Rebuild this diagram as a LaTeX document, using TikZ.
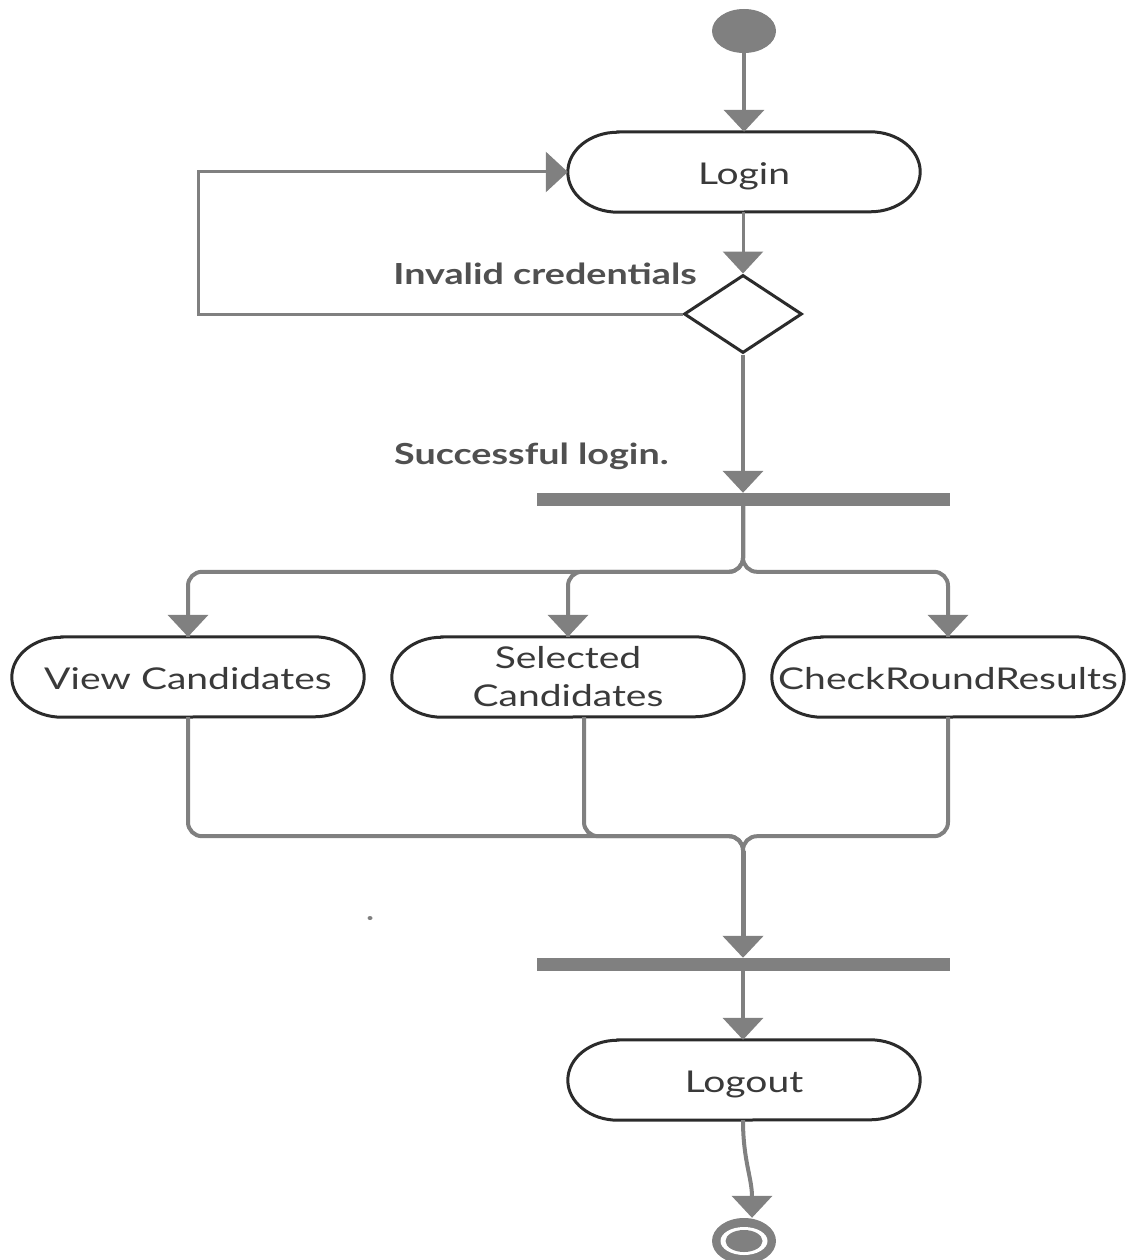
\documentclass[tikz,border=0pt]{standalone}
\usepackage{fontspec}
\setmainfont[FakeStretch=1.3]{Lato}
\usetikzlibrary{arrows.meta,shapes.geometric,calc}
\definecolor{flow}{HTML}{808080}
\definecolor{edge}{HTML}{2B2B2B}
\definecolor{ink}{HTML}{3A3A3A}
\definecolor{lbl}{HTML}{505050}
\tikzset{
  flowline/.style={draw=flow, line width=4pt},
  thinflow/.style={draw=flow, line width=3pt},
  head/.style={-{Triangle[width=40pt,length=22pt]}},
  activity/.style={minimum width=352pt, minimum height=80pt, inner sep=0pt,
    align=center, text=ink, font=\fontsize{30}{38}\selectfont},
  oneline/.style={text height=25pt, text depth=0pt},
  guard/.style={text=lbl, font=\fontsize{29}{34}\selectfont\bfseries, inner sep=0pt},
  bar/.style={fill=flow, minimum width=413pt, minimum height=13pt, inner sep=0pt},
}
% capsule outline with elliptical ends around an activity node
\newcommand\capsule[1]{%
  \draw[edge, line width=3pt]
    ($(#1.north west)+(50pt,0)$) -- ($(#1.north east)+(-50pt,0)$)
    arc[start angle=90, end angle=-90, x radius=50pt, y radius=40pt]
    -- ($(#1.south west)+(50pt,0)$)
    arc[start angle=270, end angle=90, x radius=50pt, y radius=40pt] -- cycle;}
\begin{document}
\begin{tikzpicture}[x=1pt, y=-1pt]
\useasboundingbox[fill=white] (0,0) rectangle (1130,1260);

% start state
\node[ellipse, fill=flow, minimum width=64pt, minimum height=44pt, inner sep=0pt] (start) at (744,31) {};

% activities
\node[activity, oneline] (login) at (744,172) {Login};
\node[activity, oneline] (view) at (188,677) {View Candidates};
\node[activity, text depth=2pt] (sel) at (568,677) {Selected\\Candidates};
\node[activity, oneline] (check) at (948,677) {CheckRoundResults};
\node[activity, oneline] (logout) at (744,1080) {Logout};
\foreach \n in {login,view,sel,check,logout} {\capsule{\n}}

% decision
\node[diamond, draw=edge, line width=3pt, minimum width=118pt, minimum height=78pt,
      aspect=1.5, inner sep=0pt] (dec) at (743,314) {};

% fork and join bars
\node[bar] (fork) at (743.5,499.5) {};
\node[bar] (join) at (743.5,964.5) {};

% end state
\node[ellipse, fill=flow, minimum width=64pt, minimum height=46pt, inner sep=0pt] (final) at (744,1241) {};
\node[ellipse, fill=white, minimum width=47pt, minimum height=28pt, inner sep=0pt] (finalring) at (744,1241) {};
\node[ellipse, fill=flow, minimum width=37pt, minimum height=22pt, inner sep=0pt] (finalcore) at (744,1241) {};

% guard labels
\node[guard, anchor=east] (lblinvalid) at (697,274) {Invalid credentials};
\node[guard, anchor=west] (lblok) at (394,456) {Successful login.};
\node[ellipse, fill=flow, minimum width=5pt, minimum height=4pt, inner sep=0pt] (dot) at (370,918) {};

% control flow
\draw[flowline, head] (start.south) .. controls +(0,40) and +(0,-30) .. (login.north);
\draw[thinflow, head] (login.south -| dec.north) -- (dec.north);
\draw[thinflow, head] (dec.west) -- ++(-484,0) |- (login.west);
\draw[flowline, head] (dec.south) -- (dec.south |- fork.north);

\coordinate (forkout) at (dec.south |- fork.south);
\draw[flowline, rounded corners=14pt] (forkout) |- ($(view.north)+(0,-65)$) -- (view.north);
\draw[flowline, rounded corners=14pt] (forkout) |- ($(sel.north)+(0,-65)$) -- (sel.north);
\draw[flowline, rounded corners=14pt] (forkout) |- ($(check.north)+(0,-65)$) -- (check.north);
\foreach \n in {view,sel,check}
  \draw[flowline, head] ($(\n.north)+(0,-25)$) -- (\n.north);

\coordinate (merge) at ($(forkout |- join.north)+(0,-40)$);
\draw[flowline, rounded corners=14pt] (view.south) |- ($(forkout |- view.south)+(0,119)$) -- (merge);
\draw[flowline, rounded corners=14pt] ($(sel.south)+(16,0)$) |- ($(forkout |- view.south)+(0,119)$) -- (merge);
\draw[flowline, rounded corners=14pt] (check.south) |- ($(forkout |- view.south)+(0,119)$) -- (merge);
\draw[flowline, line width=5pt, head] ($(forkout |- view.south)+(0,134)$) -- (forkout |- join.north);

\draw[flowline, head] (forkout |- join.south) -- (forkout |- logout.north);
\draw[flowline, head] (logout.south -| forkout) .. controls +(0,40) and +(0,-40) .. ($(final.north)+(8,0)$);
\end{tikzpicture}
\end{document}
